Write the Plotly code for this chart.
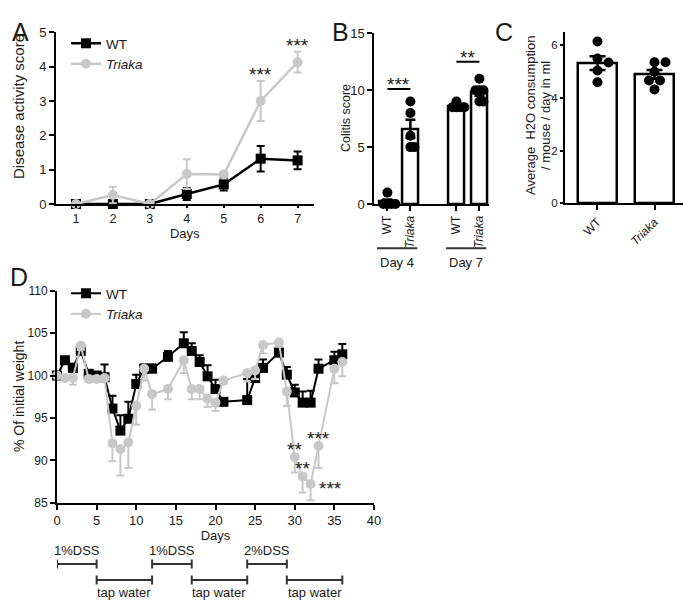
import plotly.graph_objects as go

W, H = 683, 600
def px(x): return x / W
def py(y): return 1 - y / H

FONT = "Liberation Sans, Arial, sans-serif"
TXT = "#1a1a1a"
GRAY = "#c8c8c8"

# ---------------- Panel A data ----------------
a_days = [1, 2, 3, 4, 5, 6, 7]
a_wt = [0, 0, 0, 0.29, 0.57, 1.32, 1.27]
a_wt_err = [0, 0, 0, 0.17, 0.18, 0.37, 0.26]
a_tr = [0, 0.26, 0, 0.87, 0.86, 3.0, 4.13]
a_tr_err = [0, 0.24, 0, 0.43, 0.08, 0.58, 0.30]
a_sig_days = [6, 7]
a_sig_text = ["***", "***"]

# ---------------- Panel B data ----------------
b_labels = ["WT", "<i>Triaka</i>", "WT", "<i>Triaka</i>"]
b_pos = [0, 1, 3, 4]
b_groups = ["Day 4", "Day 7"]
b_mean = [0.2, 6.6, 8.6, 9.83]
b_sem = [0.2, 0.81, 0.12, 0.31]
b_dots = [[0, 0, 0, 0, 1], [9, 8, 6, 5, 5], [8.5, 8.5, 8.5, 8.5, 9],
          [11, 10, 10, 10, 9, 9]]
b_sig = [(0, 1, 10.1, "***"), (2, 3, 12.5, "**")]

# ---------------- Panel C data ----------------
c_labels = ["WT", "<i>Triaka</i>"]
c_pos = [0, 1]
c_mean = [5.33, 4.9]
c_sem = [0.26, 0.17]
c_dots = [[6.15, 5.5, 5.35, 5.05, 4.6], [5.36, 5.36, 5.0, 4.67, 4.67, 4.33]]
c_title_lines = ["Average&nbsp;&nbsp;H2O consumption", "/ mouse / day in ml"]

# ---------------- Panel D data ----------------
d_days = [0, 1, 2, 3, 4, 5, 6, 7, 8, 9, 10, 11, 12, 14, 16, 17, 18, 19, 20, 21,
          24, 25, 26, 28, 29, 30, 31, 32, 33, 35, 36]
d_wt = [100, 101.8, 100.9, 102.9, 100.2, 100.0, 99.8, 96.1, 93.5, 94.9, 99.0,
        100.8, 100.8, 102.2, 103.8, 102.9, 101.6, 99.9, 98.4, 96.9,
        97.1, 99.7, 100.9, 102.7, 100.1, 98.0, 96.8, 96.8, 100.8, 101.8, 102.5]
d_wt_err = [0, 0.3, 0.5, 0.4, 0.4, 0.4, 1.5, 1.5, 1.8, 2.0, 1.1,
            0.5, 0.5, 0.7, 1.3, 0.9, 0.8, 1.3, 1.1, 0.3,
            2.5, 0.6, 1.0, 0.6, 0.9, 0.9, 1.3, 1.4, 1.1, 1.0, 1.2]
d_tr = [100, 99.7, 99.7, 103.5, 99.6, 99.6, 99.7, 92.0, 91.3, 92.1, 96.4,
        100.8, 97.8, 98.4, 101.8, 98.4, 98.4, 97.3, 96.8, 99.4,
        100.3, 100.6, 103.6, 103.9, 98.1, 90.35, 88.1, 87.2, 91.7, 100.8, 101.6]
d_tr_err = [0, 0.2, 0.8, 0.5, 0.3, 0.3, 0.3, 2.1, 3.1, 3.0, 2.2,
            1.4, 1.8, 1.2, 1.5, 1.2, 1.2, 1.0, 1.0, 0.4,
            1.0, 1.0, 1.0, 0.5, 1.7, 1.8, 1.9, 1.9, 2.6, 1.7, 1.7]
d_sig = [(30, "**", "above"), (31, "**", "above"), (33, "***", "above"), (32, "***", "right")]
d_periods = [(0, 5, "1%DSS", 0), (5, 12, "tap water", 1), (12, 17, "1%DSS", 0),
             (17, 24, "tap water", 1), (24, 29, "2%DSS", 0), (29, 36, "tap water", 1)]

# ---------------- layout geometry (pixels) ----------------
A_X = (56, 313.5); A_Y = (32.3, 204)
B_X = (374.3, 489.3); B_Y = (33.3, 204)
C_X = (565, 683); C_Y = (32.3, 203.3)
D_X = (57, 374); D_Y = (290.7, 502.7)

A_RANGE = [0.46, 7.43]
B_RANGE = [-0.57, 4.43]
C_RANGE = [-0.57, 1.5]
D_RANGE = [0, 40]


def swarm(vals, center, xr, xpx, yr, ypx, mind=9.0, step=4.5):
    sx = (xpx[1] - xpx[0]) / (xr[1] - xr[0])
    sy = (ypx[1] - ypx[0]) / (yr[1] - yr[0])
    placed = []
    out = []
    for v in vals:
        k = 0
        while True:
            cands = [0.0] if k == 0 else [k * step, -k * step]
            done = False
            for c in cands:
                ok = all(((c - p[0]) ** 2 + ((v - p[1]) * sy) ** 2) ** 0.5 >= mind for p in placed)
                if ok:
                    placed.append((c, v))
                    out.append(center + c / sx)
                    done = True
                    break
            if done:
                break
            k += 1
    return out


fig = go.Figure()

# Panel A
fig.add_trace(go.Scatter(
    x=a_days, y=a_wt, mode="lines+markers", name="WT", legend="legend",
    line=dict(color="black", width=2.5),
    marker=dict(symbol="square", size=10, color="black"),
    error_y=dict(type="data", array=a_wt_err, color="black", thickness=2, width=4),
    xaxis="x", yaxis="y", cliponaxis=False))
fig.add_trace(go.Scatter(
    x=a_days, y=a_tr, mode="lines+markers", name="<i>Triaka</i>", legend="legend",
    line=dict(color=GRAY, width=2.5),
    marker=dict(symbol="circle", size=10, color=GRAY),
    error_y=dict(type="data", array=a_tr_err, color=GRAY, thickness=2, width=4),
    xaxis="x", yaxis="y", cliponaxis=False))

# Panel B
fig.add_trace(go.Bar(
    x=b_pos, y=b_mean, width=0.68, marker=dict(color="white", line=dict(color="black", width=2.5)),
    error_y=dict(type="data", array=b_sem, color="black", thickness=2.5, width=5),
    xaxis="x2", yaxis="y2", showlegend=False, cliponaxis=False))
for p, vals in zip(b_pos, b_dots):
    xs = swarm(vals, p, B_RANGE, B_X, [0, 15], (B_Y[1], B_Y[0]), mind=4.0, step=4.0)
    fig.add_trace(go.Scatter(x=xs, y=vals, mode="markers",
                             marker=dict(color="black", size=10), xaxis="x2", yaxis="y2",
                             showlegend=False, cliponaxis=False))

# Panel C
fig.add_trace(go.Bar(
    x=c_pos, y=c_mean, width=0.675, marker=dict(color="white", line=dict(color="black", width=2.5)),
    error_y=dict(type="data", array=c_sem, color="black", thickness=2.5, width=8),
    xaxis="x3", yaxis="y3", showlegend=False, cliponaxis=False))
for p, vals in zip(c_pos, c_dots):
    xs = swarm(vals, p, C_RANGE, C_X, [0, 6.5], (C_Y[1], C_Y[0]), mind=9.0, step=5.5)
    fig.add_trace(go.Scatter(x=xs, y=vals, mode="markers",
                             marker=dict(color="black", size=10), xaxis="x3", yaxis="y3",
                             showlegend=False, cliponaxis=False))

# Panel D
fig.add_trace(go.Scatter(
    x=d_days, y=d_wt, mode="lines+markers", name="WT", legend="legend2",
    line=dict(color="black", width=2),
    marker=dict(symbol="square", size=10, color="black"),
    error_y=dict(type="data", symmetric=False, array=d_wt_err, arrayminus=[0] * len(d_wt_err),
                 color="black", thickness=2, width=4),
    xaxis="x4", yaxis="y4", cliponaxis=False))
fig.add_trace(go.Scatter(
    x=d_days, y=d_tr, mode="lines+markers", name="<i>Triaka</i>", legend="legend2",
    line=dict(color=GRAY, width=2),
    marker=dict(symbol="circle", size=10, color=GRAY),
    error_y=dict(type="data", symmetric=False, array=[0] * len(d_tr_err), arrayminus=d_tr_err,
                 color=GRAY, thickness=2, width=4),
    xaxis="x4", yaxis="y4", cliponaxis=False))

annotations = []
shapes = []
STAR = dict(size=19, color=TXT, family=FONT)

def tf(s):
    return dict(size=s, color=TXT, family=FONT)

# Stars A
for d, t in zip(a_sig_days, a_sig_text):
    i = a_days.index(d)
    annotations.append(dict(x=d, y=a_tr[i] + a_tr_err[i], xref="x", yref="y", text=t,
                            showarrow=False, yanchor="bottom", yshift=-6, font=STAR))

# Stars / lines B
for i0, i1, yv, t in b_sig:
    shapes.append(dict(type="line", xref="x2", yref="y2", x0=b_pos[i0], x1=b_pos[i1], y0=yv, y1=yv,
                       line=dict(color="black", width=2)))
    annotations.append(dict(x=(b_pos[i0] + b_pos[i1]) / 2, y=yv, xref="x2", yref="y2", text=t,
                            showarrow=False, yanchor="bottom", yshift=-8, font=STAR))
# group brackets B
for g, name in enumerate(b_groups):
    x0 = b_pos[2 * g] - 0.45
    x1 = b_pos[2 * g + 1] + 0.3
    shapes.append(dict(type="line", xref="x2", yref="paper", x0=x0, x1=x1, y0=py(248.3), y1=py(248.3),
                       line=dict(color="#333", width=2)))
    annotations.append(dict(x=(x0 + x1) / 2, y=py(262), xref="x2", yref="paper", text=name,
                            showarrow=False, font=tf(13)))

# Stars D
for d, t, where in d_sig:
    i = d_days.index(d)
    if where == "above":
        annotations.append(dict(x=d, y=d_tr[i], xref="x4", yref="y4", text=t, showarrow=False,
                                yanchor="bottom", yshift=-5, font=STAR))
    else:
        annotations.append(dict(x=d, y=d_tr[i], xref="x4", yref="y4", text=t, showarrow=False,
                                xanchor="left", xshift=6, yshift=-4, font=STAR))

# DSS timeline
row_y = [564, 580]
for d0, d1, label, r in d_periods:
    yy = row_y[r]
    shapes.append(dict(type="line", xref="x4", yref="paper", x0=d0, x1=d1, y0=py(yy), y1=py(yy),
                       line=dict(color="#333", width=2)))
    for dx in (d0, d1):
        shapes.append(dict(type="line", xref="x4", yref="paper", x0=dx, x1=dx, y0=py(yy - 4.5),
                           y1=py(yy + 4.5), line=dict(color="#333", width=2)))
    if r == 0:
        annotations.append(dict(x=(d0 + d1) / 2, y=py(yy - 4), xref="x4", yref="paper", text=label,
                                showarrow=False, yanchor="bottom", font=tf(13)))
    else:
        annotations.append(dict(x=(d0 + d1) / 2, y=py(yy + 3), xref="x4", yref="paper", text=label,
                                showarrow=False, yanchor="top", font=tf(13)))

# Y axis titles (placed as rotated text)
ytitles = [("Disease activity score", 18, 107, 15),
           ("Colitis score", 346, 118, 12.5),
           (c_title_lines[0], 530, 116, 13),
           (c_title_lines[1], 545, 116, 13),
           ("% Of initial weight", 19, 397, 14)]
for text, tx, ty, fs in ytitles:
    annotations.append(dict(x=px(tx), y=py(ty), xref="paper", yref="paper", text=text,
                            textangle=-90, showarrow=False, xanchor="center", yanchor="middle",
                            font=tf(fs)))

# Panel letters
for letter, lx, ly in [("A", 10, 16), ("B", 340, 16), ("C", 515, 16), ("D", 8, 277)]:
    annotations.append(dict(x=px(lx), y=py(ly), xref="paper", yref="paper", text=letter,
                            showarrow=False, font=tf(25)))

def ax(fs=12.5, **kw):
    d = dict(showline=True, linecolor="black", linewidth=2, ticks="outside",
             tickcolor="black", tickwidth=2, ticklen=5, showgrid=False, zeroline=False,
             tickfont=dict(size=fs, color=TXT, family=FONT), fixedrange=True, automargin=False)
    d.update(kw)
    return d

fig.update_layout(
    width=W, height=H, margin=dict(l=0, r=0, t=0, b=0, autoexpand=False),
    paper_bgcolor="white", plot_bgcolor="white",
    font=dict(family=FONT, color=TXT),
    showlegend=True,
    xaxis=ax(12.5, domain=[px(A_X[0]), px(A_X[1])], range=A_RANGE, anchor="y", ticklen=2,
             tickvals=a_days, title=dict(text="Days", font=tf(13), standoff=1)),
    yaxis=ax(13, domain=[py(A_Y[1]), py(A_Y[0])], range=[0, 5], anchor="x",
             tickvals=[0, 1, 2, 3, 4, 5]),
    xaxis2=ax(12, domain=[px(B_X[0]), px(B_X[1])], range=B_RANGE, anchor="y2",
              tickvals=b_pos, ticktext=b_labels, tickangle=-90),
    yaxis2=ax(13, domain=[py(B_Y[1]), py(B_Y[0])], range=[0, 15], anchor="x2",
              tickvals=[0, 5, 10, 15]),
    xaxis3=ax(12, domain=[px(C_X[0]), px(C_X[1])], range=C_RANGE, anchor="y3",
              tickvals=c_pos, ticktext=c_labels, tickangle=-45),
    yaxis3=ax(11.5, domain=[py(C_Y[1]), py(C_Y[0])], range=[0, 6.5], anchor="x3", ticklen=3,
              tickvals=[0, 2, 4, 6]),
    xaxis4=ax(13, domain=[px(D_X[0]), px(D_X[1])], range=D_RANGE, anchor="y4",
              tickvals=[0, 5, 10, 15, 20, 25, 30, 35, 40],
              title=dict(text="Days", font=tf(13), standoff=2)),
    yaxis4=ax(12, domain=[py(D_Y[1]), py(D_Y[0])], range=[85, 110], anchor="x4",
              tickvals=[85, 90, 95, 100, 105, 110]),
    legend=dict(x=px(66), y=py(28), xanchor="left", yanchor="top", bgcolor="rgba(0,0,0,0)",
                font=tf(13.5), tracegroupgap=0, itemwidth=30),
    legend2=dict(x=px(66), y=py(278), xanchor="left", yanchor="top", bgcolor="rgba(0,0,0,0)",
                 font=tf(13.5), tracegroupgap=0, itemwidth=30),
    annotations=annotations, shapes=shapes, bargap=0,
)

fig.write_html("out.html", config={"displayModeBar": False},
               post_script="document.body.style.margin='0';document.body.style.overflow='hidden';")
